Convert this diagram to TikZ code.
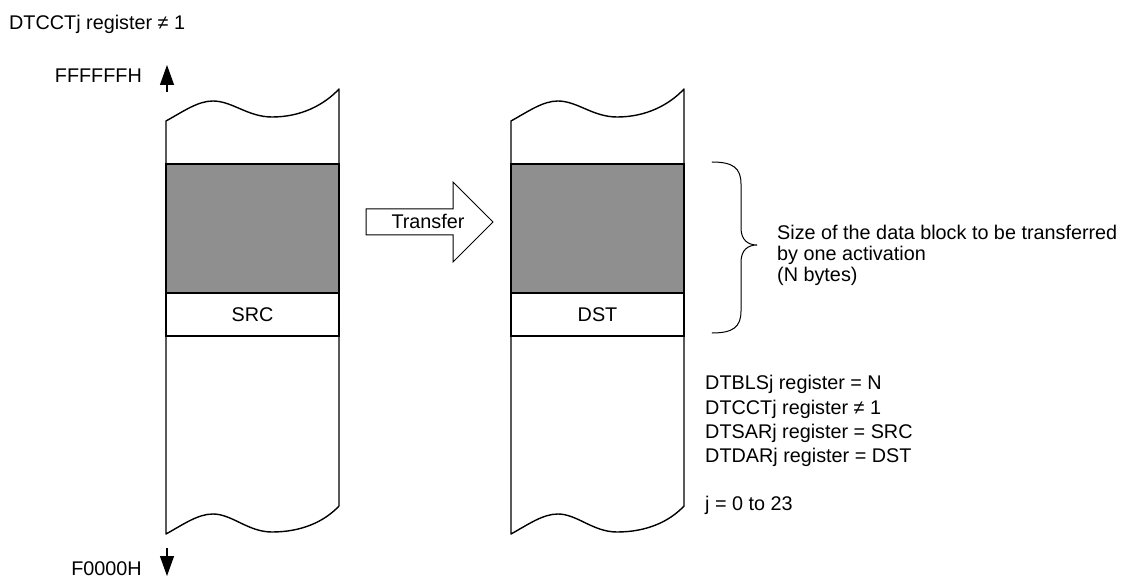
\documentclass[tikz,border=0pt]{standalone}
\usepackage{fontspec}
\setmainfont{Liberation Sans}
\usetikzlibrary{arrows.meta}
\definecolor{blockgray}{RGB}{143,143,143}
\tikzset{
  lbl/.style={inner sep=0pt, font=\fontsize{19.8}{21}\selectfont},
  colline/.style={line width=1.4pt, line join=round},
  band/.style={draw, line width=1.4pt, minimum width=173pt, minimum height=43pt, inner sep=0pt, font=\fontsize{19.8}{21}\selectfont},
  dblock/.style={draw, fill=blockgray, line width=1.4pt, minimum width=173pt, minimum height=129pt, inner sep=0pt},
  addr/.style={line width=1.3pt, -{Triangle[length=20pt,width=14pt]}},
  thin/.style={line width=1pt, line join=miter}
}
\begin{document}
\begin{tikzpicture}[x=1pt,y=-1pt]
\useasboundingbox (0,0) rectangle (1127,577);
% title
\node[lbl, anchor=base west] (title) at (9,30) {DTCCTj register ≠ 1};
% address labels
\node[lbl, anchor=base east] (hi) at (142,83) {FFFFFFH};
\node[lbl, anchor=base east] (lo) at (142,575) {F0000H};
\coordinate (up0) at (167,92);
\coordinate (up1) at (167,65);
\coordinate (dn0) at (167,548);
\coordinate (dn1) at (167,576);
\draw[addr] (up0) -- (up1);
\draw[addr] (dn0) -- (dn1);
% left column
\draw[colline, fill=white] (166,121) .. controls (184,111) and (198,101) .. (213,101)
  .. controls (232,101) and (248,117) .. (272,117)
  .. controls (301,117) and (324,105) .. (339,89)
  -- (339,506)
  .. controls (324,522) and (301,532) .. (272,532)
  .. controls (248,532) and (232,514) .. (213,514)
  .. controls (198,514) and (184,524) .. (166,534) -- cycle;
\node[dblock] (srcblk) at (252.5,228.5) {};
\node[band] (src) at (252.5,314.5) {SRC};
% right column
\draw[colline, fill=white] (511,121) .. controls (529,111) and (543,101) .. (558,101)
  .. controls (577,101) and (593,117) .. (617,117)
  .. controls (646,117) and (669,105) .. (684,89)
  -- (684,506)
  .. controls (669,522) and (646,532) .. (617,532)
  .. controls (593,532) and (577,514) .. (558,514)
  .. controls (543,514) and (529,524) .. (511,534) -- cycle;
\node[dblock] (dstblk) at (597.5,228.5) {};
\node[band] (dst) at (597.5,314.5) {DST};
% transfer arrow
\draw[thin, fill=white] (366,209) -- (453,209) -- (453,182) -- (493,222) -- (453,262) -- (453,235) -- (366,235) -- cycle;
\node[lbl, anchor=base] (xfer) at (428,229) {Transfer};
% brace
\draw[thin, line cap=round] (712,162) .. controls (733,162) and (741,168) .. (741,184)
  -- (741,228) .. controls (741,240) and (748,245) .. (757,245)
  .. controls (748,245) and (741,250) .. (741,262)
  -- (741,311) .. controls (741,327) and (733,333) .. (712,333);
\node[lbl, anchor=base west] (sz1) at (777,240) {Size of the data block to be transferred};
\node[lbl, anchor=base west] (sz2) at (777,261) {by one activation};
\node[lbl, anchor=base west] (sz3) at (777,282) {(N bytes)};
% register settings
\node[lbl, anchor=base west] (r1) at (705,389) {DTBLSj register = N};
\node[lbl, anchor=base west] (r2) at (705,414) {DTCCTj register ≠ 1};
\node[lbl, anchor=base west] (r3) at (705,438) {DTSARj register = SRC};
\node[lbl, anchor=base west] (r4) at (705,462) {DTDARj register = DST};
\node[lbl, anchor=base west] (r5) at (705,510) {j = 0 to 23};
\end{tikzpicture}
\end{document}
